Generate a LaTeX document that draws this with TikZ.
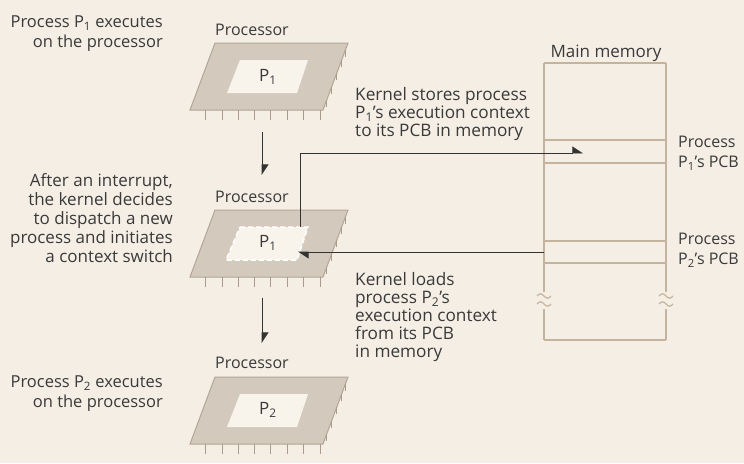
\documentclass[tikz,border=0pt]{standalone}
\usepackage{fontspec}
\setmainfont{Open Sans}
\usetikzlibrary{arrows.meta}
\definecolor{bg}{HTML}{F4EEE4}
\definecolor{ink}{HTML}{3A3A3A}
\definecolor{platefill}{HTML}{D3CABD}
\definecolor{plateedge}{HTML}{B3A694}
\definecolor{pincol}{HTML}{A89B89}
\definecolor{winfill}{HTML}{F8F4EC}
\definecolor{memline}{HTML}{C4B39D}
\definecolor{arrowc}{HTML}{333333}
\newcommand\fsz[2]{\fontsize{#1}{#2}\selectfont}
\begin{document}
\begin{tikzpicture}[x=1pt,y=1pt,
  txt/.style={text=ink,inner sep=0pt,execute at begin node=\strut},
  arr/.style={draw=arrowc,line width=0.8pt,-{Triangle[harpoon,length=10pt,width=13pt]}},
  memln/.style={draw=memline,line width=1.4pt},
  win/.style={fill=winfill},
  dwin/.style={fill=winfill,draw=white,line width=1.5pt,dash pattern=on 5pt off 3pt},
  chip/.pic={
    \fill[platefill,draw=plateedge,line width=1pt] (25,0) -- (158,0) -- (133,-67) -- (0,-67) -- cycle;
    \foreach \px in {15,32,48,64,80,97,113,130} \draw[pincol,line width=1pt] (\px,-67) -- (\px,-77);
    \foreach \t in {0.15,0.35,0.55,0.75,0.9} \draw[pincol,line width=0.8pt] (133+25*\t,-67+67*\t) -- ++(0,-7);
  }
]
\useasboundingbox[fill=bg] (0,0) rectangle (744,-463);

% processors
\pic at (190,-43) {chip};
\pic at (190,-210) {chip};
\pic at (190,-377) {chip};
\fill[win] (240,-60) -- (308,-60) -- (297,-93) -- (227,-93) -- cycle;
\filldraw[dwin] (240,-227) -- (308,-227) -- (297,-260) -- (226,-260) -- cycle;
\fill[win] (240,-394) -- (308,-394) -- (297,-427) -- (227,-427) -- cycle;
\node[txt,font=\fsz{17}{18}] (p1a) at (268,-78) {P\textsubscript{1}};
\node[txt,font=\fsz{17}{18}] (p1b) at (268,-244) {P\textsubscript{1}};
\node[txt,font=\fsz{17}{18}] (p2) at (268,-411) {P\textsubscript{2}};
\node[text=ink,inner sep=0pt,anchor=base west,font=\fsz{16}{17}] (proc1) at (215,-35) {Processor};
\node[text=ink,inner sep=0pt,anchor=base west,font=\fsz{16}{17}] (proc2) at (215,-202) {Processor};
\node[text=ink,inner sep=0pt,anchor=base west,font=\fsz{16}{17}] (proc3) at (215,-368) {Processor};

% memory
\draw[memln] (544,-63) -- (666,-63);
\draw[memln] (544,-63) -- (544,-292) (544,-309) -- (544,-340);
\draw[memln] (666,-63) -- (666,-292) (666,-309) -- (666,-340);
\draw[memln] (544,-340) -- (666,-340);
\foreach \y in {-140,-163,-241,-263} \draw[memln] (544,\y) -- (666,\y);
\foreach \mx in {544,666} \foreach \my in {-296,-304}
  \draw[memline,line width=1.2pt] (\mx-7,\my) sin (\mx-3.5,\my+2.2) cos (\mx,\my) sin (\mx+3.5,\my-2.2) cos (\mx+7,\my);
\node[text=ink,inner sep=0pt,anchor=base,font=\fsz{17}{17}] (mm) at (606,-57) {Main memory};
\node[txt,anchor=north west,align=left,font=\fsz{16}{20}] (pcb1) at (678,-136) {Process\\P\textsubscript{1}’s PCB};
\node[txt,anchor=north west,align=left,font=\fsz{16}{20}] (pcb2) at (678,-233) {Process\\P\textsubscript{2}’s PCB};

% side texts
\node[txt,anchor=north east,align=right,font=\fsz{16.5}{20}] (tA) at (163,-16) {Process P\textsubscript{1} executes\\on the processor};
\node[txt,anchor=north east,align=right,font=\fsz{17}{19}] (tB) at (173,-173.7) {After an interrupt,\\the kernel decides\\to dispatch a new\\process and initiates\\a context switch};
\node[txt,anchor=north east,align=right,font=\fsz{16.5}{20}] (tC) at (163,-376) {Process P\textsubscript{2} executes\\on the processor};
\node[txt,anchor=north west,align=left,font=\fsz{17.2}{18}] (tS) at (355,-87.4) {Kernel stores process\\P\textsubscript{1}’s execution context\\to its PCB in memory};
\node[txt,anchor=north west,align=left,font=\fsz{17.2}{18}] (tL) at (355,-272.4) {Kernel loads\\process P\textsubscript{2}’s\\execution context\\from its PCB\\in memory};

% connectors
\coordinate (d1s) at (262,-132);
\coordinate (d1e) at (262,-175);
\coordinate (d2s) at (262,-298);
\coordinate (d2e) at (262,-343);
\draw[arr] (d1s) -- (d1e);
\draw[arr] (d2s) -- (d2e);
\coordinate (st) at (300,-227);
\coordinate (stend) at (583,-153);
\draw[arr] (st) |- (stend);
\coordinate (ld) at (544,-252);
\coordinate (ldend) at (298,-252);
\draw[arr] (ld) -- (ldend);
\end{tikzpicture}
\end{document}
